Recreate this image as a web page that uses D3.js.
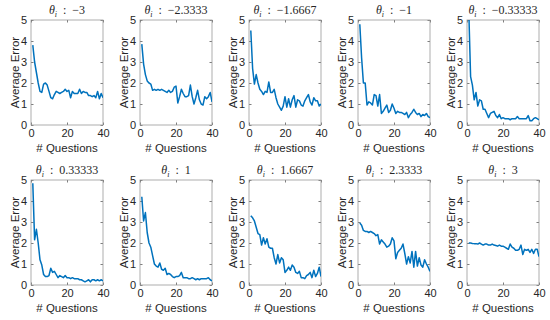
<!DOCTYPE html>
<html>
<head>
<meta charset="utf-8">
<script src="https://cdn.jsdelivr.net/npm/d3@7"></script>
<style>
  body { margin: 0; background: #fff; }
  svg { display: block; }
  .tick text { font-family: "Liberation Sans", Arial, sans-serif; font-size: 11px; fill: #262626; }
  .axis-label { font-family: "Liberation Sans", Arial, sans-serif; font-size: 11.5px; fill: #262626; }
  .title { font-family: "Liberation Serif", "DejaVu Serif", serif; font-size: 12px; fill: #262626; white-space: pre; }
</style>
</head>
<body>
<div id="chart"></div>
<script>
// theta values (panel titles)
const thetaLabels = ["\u22123", "\u22122.3333", "\u22121.6667", "\u22121", "\u22120.33333",
                     "0.33333", "1", "1.6667", "2.3333", "3"];

const xTicks = [0, 20, 40];
const yTicks = [0, 1, 2, 3, 4, 5];

// average error per question (questions 1..40), one array per panel
const errM3 = [3.8,3.0,2.5,2.0,1.6,1.55,1.95,2.0,1.9,1.6,1.3,1.25,1.45,1.6,1.55,1.5,1.55,1.6,1.7,1.6,
               1.65,1.3,1.6,1.5,1.5,1.5,1.7,1.5,1.6,1.55,1.55,1.4,1.4,1.35,1.4,1.3,1.6,1.25,1.5,1.3];
const errM233 = [3.85,2.9,2.4,2.1,2.0,1.95,1.65,1.7,1.65,1.7,1.65,1.7,1.65,1.6,1.55,1.65,1.55,1.6,1.8,1.85,
                 1.05,1.35,1.7,1.5,1.35,1.35,1.4,1.9,1.35,1.0,1.3,1.65,1.2,1.0,0.95,1.35,1.25,1.35,1.55,1.1];
const errM167 = [4.5,2.7,1.95,2.4,2.0,1.7,1.6,1.45,1.6,1.55,2.05,1.55,1.55,1.7,1.3,1.0,0.85,0.7,0.9,1.35,
                 0.85,1.25,0.85,1.2,1.4,0.85,1.2,1.15,0.95,0.9,1.15,1.3,1.45,1.1,0.95,1.3,1.15,1.15,0.9,1.0];
const errM1 = [4.8,3.2,2.0,2.0,0.95,1.1,1.05,0.95,1.45,1.4,0.9,1.45,0.55,0.65,0.8,0.95,0.6,0.7,1.0,0.8,
               0.55,0.65,0.6,0.6,0.55,0.5,0.6,0.35,0.5,0.6,0.75,0.6,0.5,0.55,0.4,0.5,0.45,0.55,0.4,0.35];
const errM033 = [5.4,2.3,1.9,1.2,1.55,0.9,1.2,1.15,0.75,0.75,0.55,0.35,0.55,0.6,0.65,0.45,0.35,0.5,0.3,0.35,
                 0.3,0.3,0.3,0.25,0.3,0.3,0.3,0.4,0.3,0.3,0.3,0.3,0.3,0.45,0.2,0.2,0.3,0.35,0.3,0.25];
const errP033 = [4.85,2.15,2.65,2.0,1.2,0.95,0.5,0.4,0.4,0.45,0.8,0.6,0.65,0.5,0.35,0.45,0.4,0.35,0.45,0.35,
                 0.35,0.3,0.35,0.3,0.3,0.3,0.25,0.25,0.2,0.15,0.2,0.25,0.15,0.25,0.25,0.2,0.25,0.2,0.25,0.2];
const errP1 = [4.2,3.05,3.45,2.5,2.0,1.8,1.4,1.0,0.9,0.85,1.05,0.75,0.7,0.8,0.5,0.55,0.5,0.4,0.35,0.4,
               0.4,0.45,0.6,0.35,0.35,0.35,0.3,0.3,0.35,0.3,0.25,0.3,0.25,0.3,0.3,0.3,0.3,0.35,0.25,0.2];
const errP167 = [3.3,3.2,3.05,2.75,2.45,2.4,1.9,2.25,1.95,2.2,1.8,1.75,1.75,1.3,1.0,1.45,1.05,1.3,1.2,0.6,
                 0.7,0.85,0.7,0.95,0.85,0.6,0.55,0.65,0.35,0.35,0.3,0.45,0.5,0.6,0.35,0.7,0.4,0.55,0.85,0.4];
const errP233 = [2.95,2.85,2.6,2.55,2.55,2.5,2.55,2.5,2.45,2.35,2.4,1.95,2.15,2.05,1.95,1.8,1.85,1.95,2.25,2.1,
                 1.25,1.55,1.65,1.75,1.95,1.5,1.0,1.35,1.05,1.6,0.85,1.6,0.9,1.3,0.95,0.85,1.2,1.0,0.85,0.65];
const errP3 = [2.0,2.0,1.98,1.97,1.97,1.95,2.0,1.95,1.9,1.95,1.95,1.9,1.9,1.95,1.9,1.88,1.85,1.9,1.85,1.85,
               1.8,1.75,1.7,1.95,1.8,1.75,1.65,1.65,1.7,1.9,1.45,1.7,1.65,1.7,1.55,1.7,1.5,1.7,1.7,1.35];

const series = [errM3, errM233, errM167, errM1, errM033, errP033, errP1, errP167, errP233, errP3];

const W = 550, H = 320;
const plotW = 72, plotH = 105;
const lefts = [31, 140, 249, 358, 467];
const tops = [20, 180];

const svg = d3.select("#chart").append("svg")
    .attr("width", W)
    .attr("height", H);

const x = d3.scaleLinear().domain([0, 40]).range([0, plotW]);
const y = d3.scaleLinear().domain([0, 5]).range([plotH, 0]);

const line = d3.line()
    .x((d, i) => x(i + 1))
    .y(d => y(d));

series.forEach(function(values, k) {
    let col = k % 5, row = Math.floor(k / 5);
    let g = svg.append("g")
        .attr("transform", "translate(" + lefts[col] + "," + tops[row] + ")");

    // clip so the first point of panel 5 gets cut at 5
    g.append("clipPath").attr("id", "clip" + k)
        .append("rect").attr("width", plotW).attr("height", plotH);

    // inner ticks on all four sides, labels only left/bottom
    g.append("g")
        .attr("transform", "translate(0," + plotH + ")")
        .call(d3.axisBottom(x).tickValues(xTicks).tickSize(-2.5).tickPadding(4).tickFormat(d3.format("d")))
        .call(a => a.select(".domain").remove());
    g.append("g")
        .call(d3.axisLeft(y).tickValues(yTicks).tickSize(-2.5).tickPadding(4).tickFormat(d3.format("d")))
        .call(a => a.select(".domain").remove());
    g.append("g")
        .call(d3.axisTop(x).tickValues(xTicks).tickSize(-2.5).tickFormat(""))
        .call(a => a.select(".domain").remove());
    g.append("g")
        .attr("transform", "translate(" + plotW + ",0)")
        .call(d3.axisRight(y).tickValues(yTicks).tickSize(-2.5).tickFormat(""))
        .call(a => a.select(".domain").remove());
    g.selectAll(".tick line").attr("stroke", "#262626").attr("stroke-width", 0.6);

    g.append("rect")
        .attr("width", plotW).attr("height", plotH)
        .attr("fill", "none")
        .attr("stroke", "#9a9a9a")
        .attr("stroke-width", 0.8);

    g.append("path")
        .datum(values)
        .attr("clip-path", "url(#clip" + k + ")")
        .attr("fill", "none")
        .attr("stroke", "#0072BD")
        .attr("stroke-width", 1.5)
        .attr("stroke-linejoin", "round")
        .attr("d", line);

    // axis labels
    g.append("text")
        .attr("class", "axis-label")
        .attr("text-anchor", "middle")
        .attr("x", plotW / 2)
        .attr("y", plotH + 27)
        .text("# Questions");
    g.append("text")
        .attr("class", "axis-label")
        .attr("text-anchor", "middle")
        .attr("transform", "translate(-12," + (plotH / 2) + ") rotate(-90)")
        .text("Average Error");

    // title: theta_i : value
    let t = g.append("text")
        .attr("class", "title")
        .attr("text-anchor", "middle")
        .attr("x", plotW / 2)
        .attr("y", -6);
    t.append("tspan").attr("font-style", "italic").text("\u03B8");
    t.append("tspan").attr("font-style", "italic").attr("font-size", "8px").attr("dy", 2.5).text("i");
    t.append("tspan").attr("dy", -2.5).text("  :  " + thetaLabels[k]);
});
</script>
</body>
</html>
